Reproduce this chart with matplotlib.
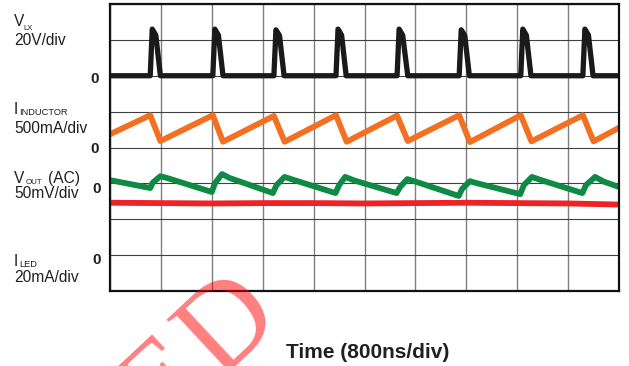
import matplotlib
matplotlib.use('Agg')
import matplotlib.pyplot as plt

W, H = 629, 366

# screen is 10 x 8 divisions; values below are in divisions, read off the scope shot
# V_LX switch node: one entry per pulse
lx_rise = [0.79, 2.02, 3.22, 4.44, 5.64, 6.86, 8.07, 9.29]
lx_peak_t = [0.83, 2.06, 3.26, 4.48, 5.68, 6.90, 8.11, 9.33]
lx_shoulder_t = [0.90, 2.13, 3.33, 4.55, 5.75, 6.97, 8.18, 9.40]
lx_fall = [0.99, 2.22, 3.42, 4.64, 5.85, 7.06, 8.27, 9.49]
lx_peak = [7.30, 7.30, 7.28, 7.30, 7.30, 7.28, 7.30, 7.30]
lx_shoulder = [7.13, 7.13, 7.12, 7.13, 7.13, 7.12, 7.13, 7.13]
lx_zero = 6.0

# inductor current (sawtooth)
il_t = [0, 0.79, 0.99, 2.02, 2.22, 3.22, 3.43, 4.44, 4.65, 5.64, 5.85,
        6.86, 7.07, 8.07, 8.28, 9.29, 9.50, 10.0]
il_v = [4.37, 4.90, 4.18, 4.90, 4.16, 4.88, 4.16, 4.90, 4.16, 4.89, 4.18,
        4.90, 4.15, 4.90, 4.17, 4.90, 4.17, 4.55]

# output ripple (AC)
vo_t = [0, 0.40, 0.79, 0.84, 0.99, 1.12, 2.00, 2.06, 2.20, 2.35, 3.20, 3.27,
        3.43, 3.60, 4.43, 4.50, 4.62, 4.80, 5.63, 5.70, 5.84, 6.00, 6.85, 6.92,
        7.07, 7.22, 8.06, 8.13, 8.29, 8.45, 9.28, 9.35, 9.53, 9.70, 10.0]
vo_v = [3.09, 2.98, 2.87, 3.02, 3.20, 3.15, 2.76, 3.00, 3.26, 3.15, 2.73, 2.95,
        3.18, 3.10, 2.73, 2.95, 3.18, 3.08, 2.73, 2.90, 3.12, 3.05, 2.65, 2.85,
        3.06, 3.00, 2.70, 2.95, 3.18, 3.10, 2.73, 2.95, 3.18, 3.05, 2.90]

# LED current, almost flat
led_t = [0, 1, 2, 3, 4, 5, 6, 7, 8, 9, 10]
led_v = [2.46, 2.45, 2.44, 2.45, 2.45, 2.44, 2.45, 2.46, 2.45, 2.44, 2.41]

lx_t, lx_v = [0], [lx_zero]
for i in range(len(lx_rise)):
    lx_t += [lx_rise[i], lx_peak_t[i], lx_shoulder_t[i], lx_fall[i]]
    lx_v += [lx_zero, lx_peak[i], lx_shoulder[i], lx_zero]
lx_t.append(10.0)
lx_v.append(lx_zero)


def fx(x):
    return x / W


def fy(y):
    return 1 - y / H


fig = plt.figure(figsize=(W / 100, H / 100), dpi=100)
ax = fig.add_axes([fx(110), fy(291), fx(619) - fx(110), fy(4) - fy(291)])
ax.set_xlim(0, 10)
ax.set_ylim(0, 8)
ax.set_xticks(range(11))
ax.set_yticks(range(9))
ax.tick_params(length=0, labelbottom=False, labelleft=False)
ax.xaxis.grid(True, color='#7f7f7f', lw=1.0)
ax.yaxis.grid(True, color='#404040', lw=0.8)
for s in ax.spines.values():
    s.set_linewidth(1.6)
    s.set_color('#111111')

ax.plot(led_t, led_v, color='#ee2326', lw=4.2, solid_joinstyle='round')
ax.plot(vo_t, vo_v, color='#0f8a45', lw=4.2, solid_joinstyle='round')
ax.plot(il_t, il_v, color='#f36f21', lw=4.2, solid_joinstyle='round')
ax.plot(lx_t, lx_v, color='#1a1a1a', lw=3.8, solid_joinstyle='round')

lab = dict(family='Liberation Sans', color='#231f20', va='baseline', ha='left')
big = 11.2
fig.text(fx(14), fy(25.5), 'V', size=big, **lab)
fig.text(fx(23.5), fy(30), 'LX', size=5.5, **lab)
fig.text(fx(14), fy(45), '20V/div', size=big, **lab)
fig.text(fx(14), fy(114.5), 'I', size=big, **lab)
fig.text(fx(19.5), fy(115), 'INDUCTOR', size=6.7, **lab)
fig.text(fx(14), fy(133), '500mA/div', size=big, **lab)
fig.text(fx(14), fy(183), 'V', size=big, **lab)
fig.text(fx(25.5), fy(184), 'OUT', size=5.7, **lab)
fig.text(fx(48), fy(183), '(AC)', size=big, **lab)
fig.text(fx(14), fy(198.5), '50mV/div', size=big, **lab)
fig.text(fx(14), fy(266), 'I', size=big, **lab)
fig.text(fx(19.5), fy(267), 'LED', size=6.7, **lab)
fig.text(fx(14), fy(282.5), '20mA/div', size=big, **lab)

zero = dict(family='Liberation Sans', weight='bold', size=11, color='#231f20',
            ha='right', va='baseline')
fig.text(fx(98.5), fy(83), '0', **zero)
fig.text(fx(98.5), fy(152.5), '0', **zero)
fig.text(fx(101), fy(193), '0', **zero)
fig.text(fx(101), fy(263.5), '0', **zero)

fig.text(fx(368), fy(358), 'Time (800ns/div)', family='Liberation Sans', weight='bold',
         size=15, color='#231f20', ha='center', va='baseline')

# watermark remnant
wm = dict(family='Liberation Serif', size=88, color='#ff0000', alpha=0.5,
          rotation=43, rotation_mode='anchor', va='baseline', zorder=10)
fig.text(fx(218), fy(379), 'D', ha='left', **wm)
fig.text(fx(214), fy(383), 'E', ha='right', **wm)

fig.savefig('out.png', dpi=100)
